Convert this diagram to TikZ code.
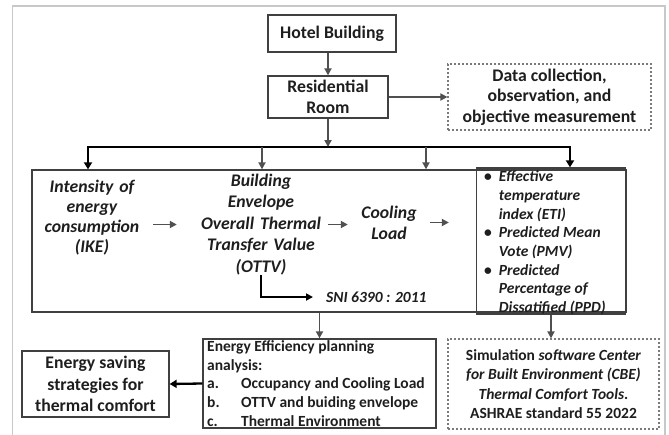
\documentclass[tikz,border=0pt]{standalone}
\usepackage{fontspec}
\setmainfont{Carlito}
\usetikzlibrary{arrows.meta}
\definecolor{framec}{HTML}{C8C8C8}
\definecolor{boxc}{HTML}{404040}
\definecolor{txt}{HTML}{1E1E1E}
\definecolor{garrc}{HTML}{505050}
\definecolor{dashc}{HTML}{7A7A7A}
\newcommand\bigfs{\fontsize{17.7pt}{21pt}\selectfont}
\newcommand\smfs{\fontsize{15.5pt}{18.7pt}\selectfont}
\begin{document}
\begin{tikzpicture}[x=1pt,y=-1pt,
  box/.style={draw=boxc, line width=1.3pt, inner sep=0pt, align=center, text=txt},
  dbox/.style={draw=dashc, dash pattern=on 2.2pt off 1.8pt, line width=1.2pt, inner sep=0pt, align=center, text=txt},
  lbl/.style={inner sep=0pt, align=center, text=txt},
  garr/.style={draw=garrc, line width=1.8pt, -{Triangle[length=7pt,width=7pt]}},
  barr/.style={draw=black, line width=2.3pt, -{Triangle[length=7pt,width=8pt]}},
  mainf/.style={font=\bigfs\bfseries},
  smallf/.style={font=\smfs\bfseries}]
\useasboundingbox (0,0) rectangle (669,434);
\draw[framec, line width=1.5pt] (12.5,440) -- (12.5,6) -- (665,6) -- (665,440);

% top part
\node[box, mainf, minimum width=128pt, minimum height=37pt] (hotel) at (332,33.5) {Hotel Building};
\node[box, mainf, minimum width=120pt, minimum height=42pt] (res) at (328,97) {Residential\\Room};
\node[dbox, font=\fontsize{17.7pt}{20.5pt}\selectfont\bfseries, minimum width=203pt, minimum height=66pt] (data) at (549.5,97) {Data collection,\\observation, and\\objective measurement};
\draw[garr] (res.north |- hotel.south) -- (res.north);
\draw[garr] (res.east) -- (data.west);

% big box and inner box
\node[box, minimum width=594pt, minimum height=142pt] (big) at (329,241) {};
\node[box, minimum width=149pt, minimum height=146pt] (ptc) at (551,241) {};

% distribution bar
\coordinate (bar) at (329,147);
\coordinate (barL) at (88,147);
\coordinate (barR) at (570,147);
\coordinate (b2) at (262,147);
\coordinate (b3) at (426,147);
\draw[garr] (res.south) -- (res.south |- bar);
\draw[black, line width=2.3pt, line cap=rect] (barL) -- (barR);
\draw[barr] (barL) -- (barL |- big.north);
\draw[barr] (barR) -- (barR |- ptc.north);
\draw[garr] (b2) -- (b2 |- big.north);
\draw[garr] (b3) -- (b3 |- big.north);

% texts in big box
\node[lbl, text width=100pt, font=\fontsize{17.7pt}{20pt}\selectfont\bfseries\itshape] (ike) at (92,218) {Intensity of\\energy\\consumption\\(IKE)};
\node[lbl, text width=130pt, font=\fontsize{17.7pt}{21.5pt}\selectfont\bfseries\itshape] (ottv) at (261,224.5) {Building\\Envelope\\Overall Thermal\\Transfer Value\\(OTTV)};
\node[lbl, text width=60pt, font=\fontsize{17.7pt}{21pt}\selectfont\bfseries\itshape] (cool) at (389,222.5) {Cooling\\Load};
\draw[garr, shorten <=11pt, shorten >=19pt] (ike.east |- ottv.west) -- (ottv.west);
\draw[garr, shorten <=2pt, shorten >=11pt] (ottv.east) -- (ottv.east -| cool.west);
\draw[garr, shorten <=11pt, shorten >=27pt] (cool.east) -- (cool.east -| ptc.west);

\node[lbl, anchor=west, font=\smfs\bfseries\itshape] (sni) at (326,297) {SNI 6390 : 2011};
\draw[draw=black, line width=2pt, -{Triangle[length=7pt,width=7pt]}, shorten >=13pt] (ottv.south) |- (sni.west);

\node[lbl, anchor=west, align=left, font=\smfs\bfseries\itshape] (ptctxt) at (484,243.5)
  {\begin{tabular}{@{}l@{\hspace{7pt}}l@{}}
   \textup{\textbullet} & Effective\\
   & temperature\\
   & index (ETI)\\
   \textup{\textbullet} & Predicted Mean\\
   & Vote (PMV)\\
   \textup{\textbullet} & Predicted\\
   & Percentage of\\
   & Dissatified (PPD)
   \end{tabular}};

% bottom part
\node[box, minimum width=233pt, minimum height=89pt] (ee) at (319.5,383.5) {};
\node[lbl, anchor=west, align=left, smallf] (eetxt) at (207,385)
  {\begin{tabular}{@{}p{34pt}@{}l@{}}
   \multicolumn{2}{@{}l@{}}{Energy Efficiency planning}\\
   \multicolumn{2}{@{}l@{}}{analysis:}\\
   a. & Occupancy and Cooling Load\\
   b. & OTTV and buiding envelope\\
   c. & Thermal Environment
   \end{tabular}};
\node[box, font=\fontsize{17.7pt}{21.5pt}\selectfont\bfseries, minimum width=147pt, minimum height=66pt] (save) at (95.5,384) {Energy saving\\strategies for\\thermal comfort};
\node[dbox, font=\fontsize{15.5pt}{19.3pt}\selectfont\bfseries, minimum width=211pt, minimum height=90pt] (sim) at (553.5,384)
  {Simulation \textit{software Center}\\\textit{for Built Environment (CBE)}\\\textit{Thermal Comfort Tools.}\\ASHRAE standard 55 2022};

\draw[garr] (ee.north |- big.south) -- (ee.north);
\draw[garr] (ptc.south) -- (ptc.south |- sim.north);
\draw[barr] (ee.west) -- (save.east);
\end{tikzpicture}
\end{document}
